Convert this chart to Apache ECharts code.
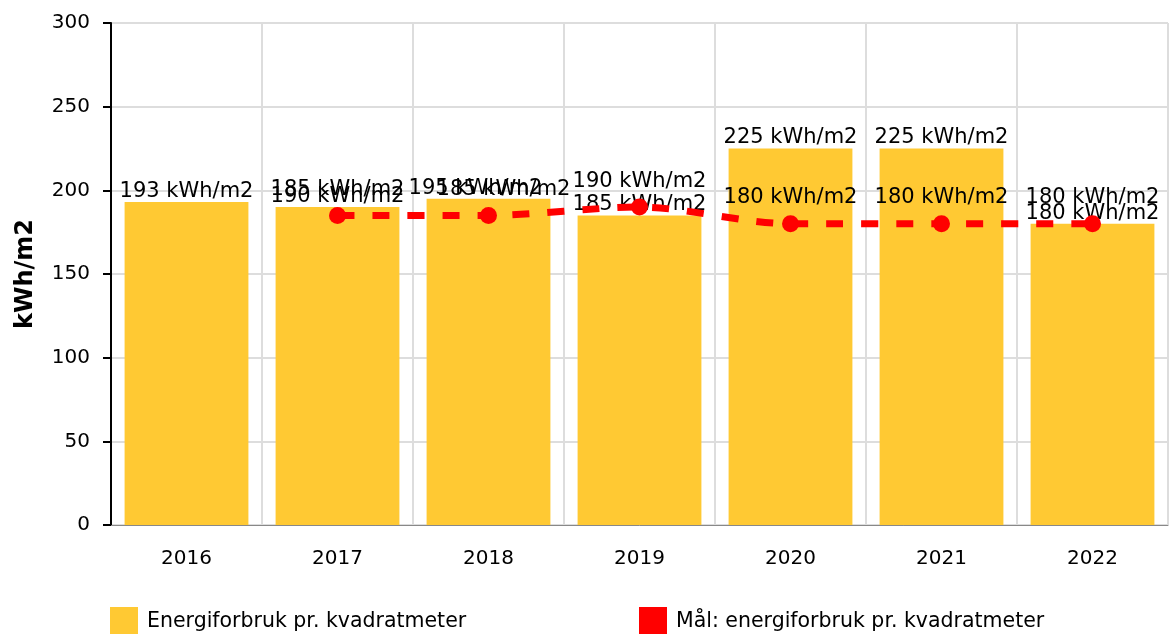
<!DOCTYPE html>
<html>
<head>
<meta charset="utf-8">
<script src="https://cdn.jsdelivr.net/npm/echarts@6/dist/echarts.min.js"></script>
<style>
  html, body { margin: 0; padding: 0; background: #fff; }
  #chart { width: 1170px; height: 634px; }
</style>
</head>
<body>
<div id="chart"></div>
<script>
const years = ['2016', '2017', '2018', '2019', '2020', '2021', '2022']
const forbruk = [193, 190, 195, 185, 225, 225, 180]
const maal = [null, 185, 185, 190, 180, 180, 180]
const yTicks = { min: 0, max: 300, interval: 50 }

const font = 'DejaVu Sans, Verdana, sans-serif'
const unitLabel = p => p.value + ' kWh/m2'
const legendText = { fontFamily: font, fontSize: 20.5, color: '#000', padding: [0, 0, 0, 4] }

// 2018: the two labels sit side by side, nudged apart
const nudge = (arr, idx, dx) => arr.map((v, i) => (i === idx ? { value: v, label: { offset: [dx, 0] } } : v))

const chart = echarts.init(document.getElementById('chart'))
chart.setOption({
  animation: false,
  grid: { left: 111, right: 2, top: 23, bottom: 109 },
  legend: [
    {
      data: ['Energiforbruk pr. kvadratmeter'],
      left: 105, top: 602,
      itemWidth: 28, itemHeight: 30,
      icon: 'rect',
      textStyle: legendText
    },
    {
      data: ['Mål: energiforbruk pr. kvadratmeter'],
      left: 634, top: 602,
      itemWidth: 28, itemHeight: 30,
      icon: 'rect',
      textStyle: legendText
    }
  ],
  xAxis: {
    type: 'category',
    data: years,
    axisLine: { lineStyle: { color: '#888', width: 1 } },
    axisTick: { alignWithLabel: true, length: 6, lineStyle: { color: '#bbb', width: 2 } },
    axisLabel: { margin: 24, fontFamily: font, fontSize: 20, color: '#000' },
    splitLine: { show: true, lineStyle: { color: '#ddd', width: 2 } }
  },
  yAxis: {
    type: 'value',
    min: yTicks.min, max: yTicks.max, interval: yTicks.interval,
    name: 'kWh/m2',
    nameLocation: 'middle',
    nameGap: 73,
    nameTextStyle: { fontFamily: font, fontSize: 24, fontWeight: 'bold', color: '#000' },
    axisLine: { show: true, lineStyle: { color: '#000', width: 2 } },
    axisTick: { show: true, length: 8, lineStyle: { color: '#000', width: 2 } },
    axisLabel: { margin: 21, fontFamily: font, fontSize: 20, color: '#000' },
    splitLine: { lineStyle: { color: '#ddd', width: 2 } }
  },
  series: [
    {
      name: 'Energiforbruk pr. kvadratmeter',
      type: 'bar',
      data: nudge(forbruk, 2, -13),
      barCategoryGap: '18%',
      itemStyle: { color: '#FFC933' },
      label: {
        show: true, position: 'top', distance: 0,
        formatter: unitLabel,
        fontFamily: font, fontSize: 21, color: '#000'
      }
    },
    {
      name: 'Mål: energiforbruk pr. kvadratmeter',
      type: 'line',
      data: nudge(maal, 2, 15),
      smooth: 0.3,
      symbol: 'circle',
      symbolSize: 17,
      itemStyle: { color: '#FF0000' },
      lineStyle: { color: '#FF0000', width: 7, type: [17, 18] },
      label: {
        show: true, position: 'top', distance: 7,
        formatter: unitLabel,
        fontFamily: font, fontSize: 21, color: '#000'
      }
    }
  ]
})
</script>
</body>
</html>
